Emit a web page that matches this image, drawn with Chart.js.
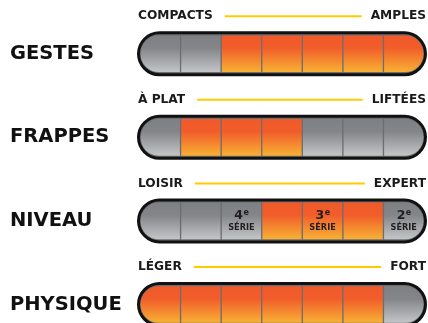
<!DOCTYPE html>
<html><head><meta charset="utf-8">
<script src="https://cdn.jsdelivr.net/npm/chart.js@4"></script>
<style>html,body{margin:0;padding:0;background:#fff;overflow:hidden}canvas{display:block}</style>
</head><body>
<canvas id="c" width="428" height="358"></canvas>
<script>
const categories = ['GESTES', 'FRAPPES', 'NIVEAU', 'PHYSIQUE'];
const leftLabels = ['COMPACTS', 'À PLAT', 'LOISIR', 'LÉGER'];
const rightLabels = ['AMPLES', 'LIFTÉES', 'EXPERT', 'FORT'];
const gestes = [0, 0, 1, 1, 1, 1, 1];
const frappes = [0, 1, 1, 1, 0, 0, 0];
const niveau = [0, 0, 0, 1, 1, 1, 0];
const physique = [1, 1, 1, 1, 1, 1, 0];
const segmentCount = 7;
const niveauSeries = ['', '', '4', '', '3', '', '2'];
const serieWord = 'SÉRIE';
const rows = [gestes, frappes, niveau, physique];

const BAR_H = 38;
const FONT = '"DejaVu Sans", sans-serif';

function fillFor(chart, rowIndex, active) {
  const y = chart.scales.y.getPixelForValue(rowIndex);
  if (!isFinite(y)) return active ? '#f47a2e' : '#9a9c9f';
  const g = chart.ctx.createLinearGradient(0, y - BAR_H / 2, 0, y + BAR_H / 2);
  if (active) {
    g.addColorStop(0, '#f1592a');
    g.addColorStop(0.35, '#f15d2a');
    g.addColorStop(1, '#f8b334');
  } else {
    g.addColorStop(0, '#7e8083');
    g.addColorStop(0.35, '#838588');
    g.addColorStop(1, '#c6c7c9');
  }
  return g;
}

const datasets = [];
for (let i = 0; i < segmentCount; i++) {
  let radius;
  if (i === 0) radius = {topLeft: 19, bottomLeft: 19, topRight: 0, bottomRight: 0};
  else if (i === segmentCount - 1) radius = {topLeft: 0, bottomLeft: 0, topRight: 19, bottomRight: 19};
  else radius = {topLeft: 0, bottomLeft: 0, topRight: 0, bottomRight: 0};
  datasets.push({
    data: categories.map(() => [i, i + 1]),
    grouped: false,
    barThickness: BAR_H,
    borderWidth: 1,
    borderColor: '#6d6e71',
    borderSkipped: false,
    borderRadius: radius,
    backgroundColor: (ctx) => {
      if (!ctx.chart.scales || !ctx.chart.scales.y || ctx.dataIndex === undefined) return '#888';
      return fillFor(ctx.chart, ctx.dataIndex, rows[ctx.dataIndex][i]);
    }
  });
}

const pills = {
  id: 'pills',
  beforeDatasetsDraw(chart) {
    const {ctx, scales: {x, y}} = chart;
    const x0 = x.getPixelForValue(0), x1 = x.getPixelForValue(segmentCount);
    categories.forEach((c, r) => {
      const cy = y.getPixelForValue(r);
      ctx.save();
      ctx.beginPath();
      ctx.roundRect(x0 - 1.5, cy - 21, x1 - x0 + 3, 42, 21);
      ctx.fillStyle = '#6d6e71';
      ctx.fill();
      ctx.restore();
    });
  },
  afterDatasetsDraw(chart) {
    const {ctx, scales: {x, y}} = chart;
    const x0 = x.getPixelForValue(0), x1 = x.getPixelForValue(segmentCount);
    categories.forEach((c, r) => {
      const cy = y.getPixelForValue(r);
      ctx.save();
      ctx.beginPath();
      ctx.roundRect(x0 - 1.5, cy - 21, x1 - x0 + 3, 42, 21);
      ctx.lineWidth = 3;
      ctx.strokeStyle = '#111';
      ctx.stroke();

      const ly = cy - 37.5;
      ctx.font = 'bold 12.2px ' + FONT;
      ctx.fillStyle = '#1a1a1a';
      ctx.textBaseline = 'middle';
      ctx.textAlign = 'left';
      const lx = x0 - 2;
      ctx.fillText(leftLabels[r], lx, ly);
      const lw = ctx.measureText(leftLabels[r]).width;
      ctx.textAlign = 'right';
      const rx = x1 + 2;
      ctx.fillText(rightLabels[r], rx, ly);
      const rw = ctx.measureText(rightLabels[r]).width;
      ctx.beginPath();
      ctx.moveTo(lx + lw + 12, ly);
      ctx.lineTo(rx - rw - 9, ly);
      ctx.lineWidth = 2;
      ctx.strokeStyle = '#ffcc00';
      ctx.stroke();
      ctx.restore();
    });

    const r = categories.indexOf('NIVEAU');
    const cy = y.getPixelForValue(r);
    niveauSeries.forEach((s, i) => {
      if (!s) return;
      const cx = x.getPixelForValue(i + 0.5);
      ctx.save();
      ctx.fillStyle = '#231f20';
      ctx.textBaseline = 'middle';
      ctx.font = 'bold 12.5px ' + FONT;
      const nw = ctx.measureText(s).width;
      ctx.font = 'bold 8px ' + FONT;
      const ew = ctx.measureText('e').width;
      const startX = cx - (nw + ew) / 2;
      ctx.textAlign = 'left';
      ctx.font = 'bold 12.5px ' + FONT;
      ctx.fillText(s, startX, cy - 5);
      ctx.font = 'bold 8px ' + FONT;
      ctx.fillText('e', startX + nw + 0.5, cy - 8);
      ctx.textAlign = 'center';
      ctx.font = 'bold 8.2px ' + FONT;
      ctx.fillText(serieWord, cx, cy + 7);
      ctx.restore();
    });
  }
};

new Chart(document.getElementById('c'), {
  type: 'bar',
  data: {labels: categories, datasets},
  options: {
    indexAxis: 'y',
    responsive: false,
    animation: false,
    layout: {padding: {left: 10, right: 4, top: 12, bottom: 2.5}},
    plugins: {legend: {display: false}, tooltip: {enabled: false}},
    scales: {
      x: {type: 'linear', min: 0, max: segmentCount, display: false},
      y: {
        type: 'category',
        offset: true,
        grid: {display: false},
        border: {display: false},
        afterFit(scale) { scale.width = 130; },
        ticks: {
          crossAlign: 'far',
          color: '#111',
          padding: 0,
          font: {family: FONT, weight: 'bold', size: 19.5}
        }
      }
    }
  },
  plugins: [pills]
});
</script>
</body></html>
